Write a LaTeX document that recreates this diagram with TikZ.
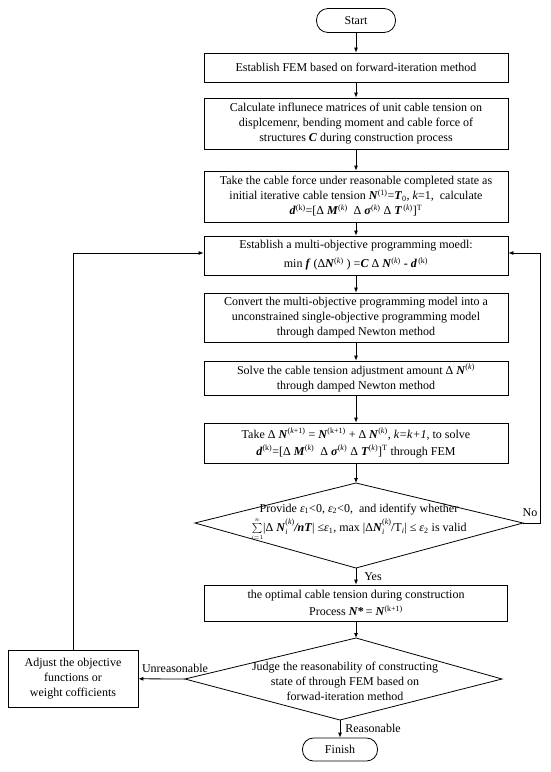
\documentclass[tikz,border=0pt]{standalone}
\usepackage{fontspec}
\setmainfont{Liberation Serif}
\usetikzlibrary{arrows.meta}
\newcommand{\bi}[1]{\textbf{\textit{#1}}}
\newcommand{\sps}[1]{\textsuperscript{#1}}
\newcommand{\sbs}[1]{\textsubscript{#1}}
\newcommand{\ssp}[2]{{\fontsize{8}{9}\selectfont\raisebox{-3pt}{\shortstack[l]{#2\\#1}}}}
\begin{document}
\begin{tikzpicture}[x=1pt,y=-1pt,
  every node/.style={font=\fontsize{12}{15}\selectfont},
  box/.style={draw, line width=0.8pt, minimum width=304pt, align=center, inner sep=2pt},
  term/.style={draw, line width=0.8pt, rounded corners=11.5pt, minimum height=24pt, align=center, inner sep=2pt},
  dia/.style={draw, line width=0.8pt},
  arr/.style={-{Latex[length=5pt,width=4pt]}, line width=0.8pt},
  lbl/.style={inner sep=1pt}]
\useasboundingbox (0,0) rectangle (550,772);
\fill[white] (0,0) rectangle (550,772);

\node[term, minimum width=79pt] (start) at (356,20.5) {Start};
\node[box, minimum height=29pt] (b1) at (356,67.5) {Establish FEM based on forward-iteration method};
\node[box, minimum height=51pt] (b2) at (356,123.5) {Calculate influnece matrices of unit cable tension on\\ displcemenr, bending moment and cable force of\\ structures \bi{C} during construction process};
\node[box, minimum height=51pt] (b3) at (356,196.5) {Take the cable force under reasonable completed state as\\ initial iterative cable tension \bi{N}\sps{(1)}=\bi{T}\sbs{0}, \textit{k}=1,\ \ calculate\\ \bi{d}\sps{(k)}=[Δ \bi{M}\sps{(\textit{k})}\ \ Δ \bi{σ}\sps{(\textit{k})} Δ \bi{T}\sps{\,(\textit{k})}]\sps{T}};
\node[box, minimum height=39pt] (b4) at (356,255.5) {Establish a multi-objective programming moedl:\\[4pt] min \bi{f} (Δ\bi{N}\sps{(\textit{k})} ) =\bi{C} Δ \bi{N}\sps{(\textit{k})} \textbf{-} \bi{d}\sps{\,(k)}};
\node[box, minimum height=49pt] (b5) at (356,317.5) {Convert the multi-objective programming model into a\\ unconstrained single-objective programming model\\ through damped Newton method};
\node[box, minimum height=34pt] (b6) at (356,378) {Solve the cable tension adjustment amount Δ \bi{N}\sps{(\textit{k})}\\ through damped Newton method};
\node[box, minimum height=40pt] (b7) at (356,443) {Take Δ \bi{N}\sps{(\textit{k}+1)} = \bi{N}\sps{(k+1)} + Δ \bi{N}\sps{(\textit{k})}, \textit{k=k+1}, to solve\\[2pt] \bi{d}\sps{(k)}=[Δ \bi{M}\sps{(\textit{k})}\ \ Δ \bi{σ}\sps{(\textit{k})} Δ \bi{T}\sps{(\textit{k})}]\sps{T} through FEM};

% decision 1
\coordinate (d1t) at (356,483);
\coordinate (d1l) at (195,523);
\coordinate (d1r) at (523,523);
\coordinate (d1b) at (356,568);
\draw[dia] (d1t) -- (d1r) -- (d1b) -- (d1l) -- cycle;
\node[align=center, inner sep=0pt] (d1) at (359,522) {Provide \textit{ε}\sbs{1}<0, \textit{ε}\sbs{2}<0,\ \ and identify whether\\[2pt] $\sum\limits_{\scriptscriptstyle i=1}^{\scriptscriptstyle n}$|Δ \bi{N}\ssp{\textit{i}}{(\textit{k})}\bi{/nT}| ≤\textit{ε}\sbs{1}, max |Δ\bi{N}\ssp{\textit{i}}{(\textit{k})}/T\sbs{\textit{i}}| ≤ \textit{ε}\sbs{2} is valid};

\node[box, minimum width=303pt, minimum height=36pt] (b8) at (356,603) {the optimal cable tension during construction\\[2pt] Process \bi{N}\textbf{*}\,= \bi{N}\sps{(k+1)}};

% decision 2
\coordinate (d2t) at (356,638);
\coordinate (d2l) at (185,679);
\coordinate (d2r) at (502,679);
\coordinate (d2b) at (340,720);
\draw[dia] (d2t) -- (d2r) -- (d2b) -- (d2l) -- cycle;
\node[align=center, inner sep=0pt] (d2) at (345,681) {Judge the reasonability of constructing\\ state of through FEM based on\\ forwad-iteration method};

\node[term, minimum width=75pt, minimum height=23pt, rounded corners=11pt] (finish) at (340,749.5) {Finish};
\node[box, minimum width=130pt, minimum height=57pt] (adj) at (73,678.5) {Adjust the objective\\ functions or\\ weight cofficients};

% connectors
\draw[arr] (start) -- (b1);
\draw[arr] (b1) -- (b2);
\draw[arr] (b2) -- (b3);
\draw[arr] (b3) -- (b4);
\draw[arr] (b4) -- (b5);
\draw[arr] (b5) -- (b6);
\draw[arr] (b6) -- (b7);
\draw[arr] (b7) -- (d1t);
\draw[arr] (d1b) -- (b8);
\draw[arr] (b8) -- (d2t);
\draw[arr] (d2b) -- (finish);
\draw[arr] (d2l) -- (adj);
\draw[arr] (d1r) -- (540,523) |- ([yshift=2.5pt]b4.east);
\draw[arr] (adj.north) |- ([yshift=2.5pt]b4.west);

% labels
\node[lbl] (lno) at (530,513) {No};
\node[lbl] (lyes) at (373,577) {Yes};
\node[lbl] (lunr) at (175,668) {Unreasonable};
\node[lbl] (lrea) at (373,728) {Reasonable};
\end{tikzpicture}
\end{document}
